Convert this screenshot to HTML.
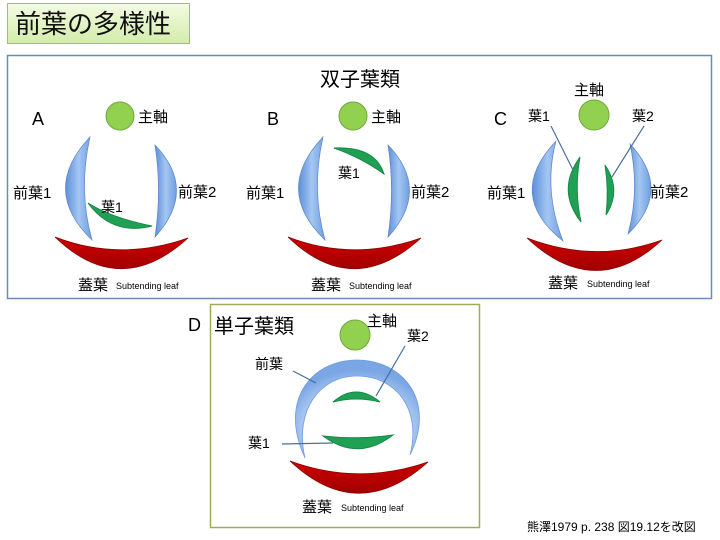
<!DOCTYPE html>
<html><head><meta charset="utf-8"><style>
body{margin:0;background:#fff;}
svg{display:block;font-family:"Liberation Sans","Noto Sans CJK JP",sans-serif;}
</style></head><body>
<svg width="720" height="540" viewBox="0 0 720 540" xmlns="http://www.w3.org/2000/svg">
<defs>
<linearGradient id="tg" x1="0" y1="0" x2="0" y2="1"><stop offset="0" stop-color="#f3fbe2"/><stop offset="1" stop-color="#d3ecaa"/></linearGradient>
<linearGradient id="bl" x1="0" y1="0" x2="1" y2="0"><stop offset="0" stop-color="#5c8fd8"/><stop offset="0.5" stop-color="#a4c6f2"/><stop offset="1" stop-color="#6e9ee0"/></linearGradient>
<radialGradient id="bd" cx="0.5" cy="0.7" r="0.6"><stop offset="0.6" stop-color="#c2d8f7"/><stop offset="1" stop-color="#7aa6e4"/></radialGradient>
<linearGradient id="rd" x1="0" y1="0" x2="0" y2="1"><stop offset="0" stop-color="#d00000"/><stop offset="1" stop-color="#a00000"/></linearGradient>
</defs>
<rect x="7.5" y="3.5" width="182" height="40" fill="url(#tg)" stroke="#9fbf6a"/>
<text x="15" y="33" font-size="26" fill="#111">前葉の多様性</text>
<rect x="7.5" y="55.5" width="704" height="243" fill="#fff" stroke="#6a8ab8" stroke-width="1.5"/>
<text x="360" y="86" font-size="20" text-anchor="middle">双子葉類</text>

<!-- A -->
<g>
<text x="32" y="125" font-size="18">A</text>
<circle cx="120" cy="116" r="14" fill="#92d050" stroke="#6fa83a"/>
<text x="138" y="122" font-size="15">主軸</text>
<path d="M90 137 Q40 190 92 240 Q78 190 90 137Z" fill="url(#bl)" stroke="#5a86c8" stroke-width="0.7"/>
<path d="M155 145 Q198 190 155 237 Q162 190 155 145Z" fill="url(#bl)" stroke="#5a86c8" stroke-width="0.7"/>
<path d="M88 203 Q112 236 152 226 Q112 218 88 203Z" fill="#1fa055" stroke="#178a45" stroke-width="1"/>
<text x="101" y="212" font-size="14">葉1</text>
<text x="13" y="198" font-size="15">前葉1</text>
<text x="178" y="197" font-size="15">前葉2</text>
<path d="M55 237 Q120 300 188 238 Q120 262 55 237Z" fill="url(#rd)" stroke="#8a0000" stroke-width="0.7"/>
<text x="78" y="290" font-size="15">蓋葉</text><text x="116" y="289" font-size="9">Subtending leaf</text>
</g>
<!-- B -->
<g>
<text x="267" y="125" font-size="18">B</text>
<circle cx="353" cy="116" r="14" fill="#92d050" stroke="#6fa83a"/>
<text x="371" y="122" font-size="15">主軸</text>
<path d="M323 137 Q273 190 325 240 Q311 190 323 137Z" fill="url(#bl)" stroke="#5a86c8" stroke-width="0.7"/>
<path d="M388 145 Q431 190 388 237 Q395 190 388 145Z" fill="url(#bl)" stroke="#5a86c8" stroke-width="0.7"/>
<path d="M334 148 Q375 146 384 174 Q362 158 334 148Z" fill="#1fa055" stroke="#178a45" stroke-width="1"/>
<text x="338" y="178" font-size="14">葉1</text>
<text x="246" y="198" font-size="15">前葉1</text>
<text x="411" y="197" font-size="15">前葉2</text>
<path d="M288 237 Q353 300 421 238 Q353 262 288 237Z" fill="url(#rd)" stroke="#8a0000" stroke-width="0.7"/>
<text x="311" y="290" font-size="15">蓋葉</text><text x="349" y="289" font-size="9">Subtending leaf</text>
</g>
<!-- C -->
<g>
<text x="494" y="125" font-size="18">C</text>
<circle cx="594" cy="115" r="15" fill="#92d050" stroke="#6fa83a"/>
<text x="574" y="95" font-size="15">主軸</text>
<text x="528" y="121" font-size="14">葉1</text>
<text x="632" y="121" font-size="14">葉2</text>
<path d="M556 141 Q505 195 563 241 Q543 190 556 141Z" fill="url(#bl)" stroke="#5a86c8" stroke-width="0.7"/>
<path d="M630 144 Q673 190 628 234 Q640 190 630 144Z" fill="url(#bl)" stroke="#5a86c8" stroke-width="0.7"/>
<path d="M580 157 Q556 190 581 222 Q574 190 580 157Z" fill="#1fa055" stroke="#178a45" stroke-width="1"/>
<path d="M605 165 Q622 190 606 215 Q609 190 605 165Z" fill="#1fa055" stroke="#178a45" stroke-width="1"/>
<line x1="551" y1="126" x2="573" y2="170" stroke="#4a6f9a" stroke-width="1.2"/>
<line x1="644" y1="126" x2="612" y2="177" stroke="#4a6f9a" stroke-width="1.2"/>
<text x="487" y="198" font-size="15">前葉1</text>
<text x="650" y="197" font-size="15">前葉2</text>
<path d="M527 238 Q595 302 662 240 Q595 264 527 238Z" fill="url(#rd)" stroke="#8a0000" stroke-width="0.7"/>
<text x="548" y="288" font-size="15">蓋葉</text><text x="587" y="287" font-size="9">Subtending leaf</text>
</g>
<!-- D -->
<rect x="210.5" y="304.5" width="269" height="223" fill="#fff" stroke="#9aae5a" stroke-width="1.5"/>
<text x="188" y="331" font-size="18">D</text>
<text x="214" y="333" font-size="20">単子葉類</text>
<circle cx="355" cy="335" r="15" fill="#92d050" stroke="#6fa83a"/>
<text x="367" y="326" font-size="15">主軸</text>
<text x="407" y="341" font-size="14">葉2</text>
<path d="M305 458 C278 400 312 360 357 360 C402 360 437 400 410 455 C422 408 395 376 357 376 C320 376 294 410 305 458Z" fill="url(#bd)" stroke="#6e9ee0" stroke-width="0.8"/>
<path d="M333 402 Q356 382 380 402 Q356 396 333 402Z" fill="#1fa055" stroke="#178a45" stroke-width="1"/>
<path d="M323 436 Q358 462 393 435 Q358 440 323 436Z" fill="#1fa055" stroke="#178a45" stroke-width="1"/>
<line x1="293" y1="371" x2="316" y2="383" stroke="#4a6f9a" stroke-width="1.2"/>
<line x1="405" y1="346" x2="376" y2="396" stroke="#4a6f9a" stroke-width="1.2"/>
<line x1="282" y1="444" x2="333" y2="443" stroke="#4a6f9a" stroke-width="1.2"/>
<text x="255" y="369" font-size="14">前葉</text>
<text x="248" y="448" font-size="14">葉1</text>
<path d="M290 461 Q358 525 428 462 Q358 486 290 461Z" fill="url(#rd)" stroke="#8a0000" stroke-width="0.7"/>
<text x="302" y="512" font-size="15">蓋葉</text><text x="341" y="511" font-size="9">Subtending leaf</text>
<text x="527" y="531" font-size="12">熊澤1979 p. 238 図19.12を改図</text>
</svg>
</body></html>
